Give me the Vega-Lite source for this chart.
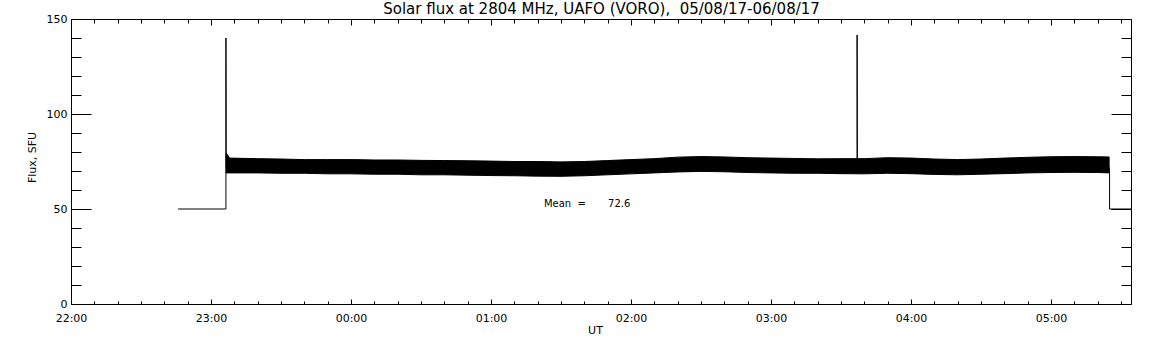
{
  "$schema": "https://vega.github.io/schema/vega-lite/v6.json",
  "width": 1060,
  "height": 285,
  "autosize": {"type": "none"},
  "padding": {"left": 71, "top": 19, "right": 21, "bottom": 41},
  "background": "white",
  "config": {
    "view": {"stroke": "black", "strokeWidth": 1},
    "axis": {
      "grid": false,
      "domain": false,
      "tickColor": "black",
      "tickWidth": 1,
      "labelColor": "black",
      "labelFont": "DejaVu Sans",
      "labelFontSize": 11,
      "titleFont": "DejaVu Sans",
      "titleFontSize": 11,
      "titleFontWeight": "normal",
      "titleColor": "black",
      "labelFlush": false,
      "labelOverlap": false
    }
  },
  "datasets": {
    "band": [
      {"t": "2017-08-05T23:06:30", "lo": 69.0, "hi": 79.5},
      {"t": "2017-08-05T23:08:00", "lo": 69.0, "hi": 76.8},
      {"t": "2017-08-05T23:20:00", "lo": 69.0, "hi": 76.5},
      {"t": "2017-08-05T23:30:00", "lo": 68.8, "hi": 76.3},
      {"t": "2017-08-05T23:40:00", "lo": 68.8, "hi": 76.0},
      {"t": "2017-08-05T23:50:00", "lo": 68.5, "hi": 76.0},
      {"t": "2017-08-06T00:00:00", "lo": 68.5, "hi": 76.0},
      {"t": "2017-08-06T00:10:00", "lo": 68.3, "hi": 75.8},
      {"t": "2017-08-06T00:20:00", "lo": 68.3, "hi": 75.8},
      {"t": "2017-08-06T00:30:00", "lo": 68.0, "hi": 75.6},
      {"t": "2017-08-06T00:40:00", "lo": 68.0, "hi": 75.5},
      {"t": "2017-08-06T00:50:00", "lo": 67.8, "hi": 75.4},
      {"t": "2017-08-06T01:00:00", "lo": 67.6, "hi": 75.2},
      {"t": "2017-08-06T01:10:00", "lo": 67.5, "hi": 75.0},
      {"t": "2017-08-06T01:20:00", "lo": 67.3, "hi": 75.0},
      {"t": "2017-08-06T01:30:00", "lo": 67.2, "hi": 74.8},
      {"t": "2017-08-06T01:40:00", "lo": 67.5, "hi": 75.0},
      {"t": "2017-08-06T01:50:00", "lo": 68.0, "hi": 75.5},
      {"t": "2017-08-06T02:00:00", "lo": 68.5, "hi": 76.0},
      {"t": "2017-08-06T02:10:00", "lo": 69.0, "hi": 76.5},
      {"t": "2017-08-06T02:20:00", "lo": 69.5, "hi": 77.3},
      {"t": "2017-08-06T02:30:00", "lo": 69.8, "hi": 77.6},
      {"t": "2017-08-06T02:40:00", "lo": 69.6, "hi": 77.4},
      {"t": "2017-08-06T02:50:00", "lo": 69.2, "hi": 77.0},
      {"t": "2017-08-06T03:00:00", "lo": 69.0, "hi": 76.8},
      {"t": "2017-08-06T03:10:00", "lo": 68.8, "hi": 76.6},
      {"t": "2017-08-06T03:20:00", "lo": 68.8, "hi": 76.4},
      {"t": "2017-08-06T03:30:00", "lo": 68.6, "hi": 76.5},
      {"t": "2017-08-06T03:40:00", "lo": 68.5, "hi": 76.5},
      {"t": "2017-08-06T03:50:00", "lo": 68.8, "hi": 77.0},
      {"t": "2017-08-06T04:00:00", "lo": 68.6, "hi": 76.8},
      {"t": "2017-08-06T04:10:00", "lo": 68.2, "hi": 76.3},
      {"t": "2017-08-06T04:20:00", "lo": 68.0, "hi": 76.0},
      {"t": "2017-08-06T04:30:00", "lo": 68.3, "hi": 76.3},
      {"t": "2017-08-06T04:40:00", "lo": 68.6, "hi": 76.8},
      {"t": "2017-08-06T04:50:00", "lo": 69.0, "hi": 77.2},
      {"t": "2017-08-06T05:00:00", "lo": 69.2, "hi": 77.5},
      {"t": "2017-08-06T05:10:00", "lo": 69.3, "hi": 77.6},
      {"t": "2017-08-06T05:20:00", "lo": 69.2, "hi": 77.5},
      {"t": "2017-08-06T05:24:54", "lo": 69.0, "hi": 77.4}
    ],
    "trace": [
      {"seg": "a", "t": "2017-08-05T22:45:54", "v": 50},
      {"seg": "a", "t": "2017-08-05T23:06:24", "v": 50},
      {"seg": "a", "t": "2017-08-05T23:06:24", "v": 140},
      {"seg": "a", "t": "2017-08-05T23:06:30", "v": 72},
      {"seg": "b", "t": "2017-08-06T03:36:54", "v": 74},
      {"seg": "b", "t": "2017-08-06T03:36:54", "v": 141.6},
      {"seg": "b", "t": "2017-08-06T03:37:00", "v": 74},
      {"seg": "c", "t": "2017-08-06T05:24:54", "v": 72},
      {"seg": "c", "t": "2017-08-06T05:25:06", "v": 70},
      {"seg": "c", "t": "2017-08-06T05:25:06", "v": 50},
      {"seg": "c", "t": "2017-08-06T05:34:17", "v": 50}
    ],
    "note": [
      {"t": "2017-08-06T01:22:40", "v": 51, "label": "Mean\u00a0\u00a0=\u00a0\u00a0\u00a0\u00a0\u00a0\u00a0\u00a072.6"}
    ],
    "hours": [
      {"t": "2017-08-05T23:00:00"},
      {"t": "2017-08-06T00:00:00"},
      {"t": "2017-08-06T01:00:00"},
      {"t": "2017-08-06T02:00:00"},
      {"t": "2017-08-06T03:00:00"},
      {"t": "2017-08-06T04:00:00"},
      {"t": "2017-08-06T05:00:00"}
    ]
  },
  "resolve": {"axis": {"x": "independent", "y": "independent"}},
  "layer": [
    {
      "data": {"name": "band"},
      "mark": {"type": "area", "color": "black", "stroke": "black", "strokeWidth": 1},
      "encoding": {
        "x": {
          "field": "t", "type": "temporal", "title": "UT",
          "scale": {"domain": [
            {"year": 2017, "month": 8, "date": 5, "hours": 22},
            {"year": 2017, "month": 8, "date": 6, "hours": 5, "minutes": 34, "seconds": 17}
          ]},
          "axis": {
            "orient": "bottom", "format": "%H:%M",
            "tickCount": 8,
            "tickSize": -5, "labelPadding": 13, "labelBaseline": "top",
            "titleX": 524, "titleY": 29, "titleBaseline": "alphabetic", "titleAlign": "center"
          }
        },
        "y": {
          "field": "lo", "type": "quantitative", "title": "Flux, SFU",
          "scale": {"domain": [0, 150], "nice": false, "zero": true},
          "axis": {
            "orient": "left", "values": [0, 50, 100, 150],
            "tickSize": -20, "labelPadding": 24,
            "titleX": -36, "titleY": 138, "titleAngle": -90,
            "titleBaseline": "alphabetic", "titleAlign": "center"
          }
        },
        "y2": {"field": "hi"}
      }
    },
    {
      "data": {"name": "trace"},
      "mark": {"type": "line", "color": "black", "strokeWidth": 1},
      "encoding": {
        "x": {
          "field": "t", "type": "temporal",
          "axis": {
            "orient": "bottom",
            "values": [
              {"year": 2017, "month": 8, "date": 5, "hours": 22, "minutes": 10},
              {"year": 2017, "month": 8, "date": 5, "hours": 22, "minutes": 20},
              {"year": 2017, "month": 8, "date": 5, "hours": 22, "minutes": 30},
              {"year": 2017, "month": 8, "date": 5, "hours": 22, "minutes": 40},
              {"year": 2017, "month": 8, "date": 5, "hours": 22, "minutes": 50},
              {"year": 2017, "month": 8, "date": 5, "hours": 23, "minutes": 10},
              {"year": 2017, "month": 8, "date": 5, "hours": 23, "minutes": 20},
              {"year": 2017, "month": 8, "date": 5, "hours": 23, "minutes": 30},
              {"year": 2017, "month": 8, "date": 5, "hours": 23, "minutes": 40},
              {"year": 2017, "month": 8, "date": 5, "hours": 23, "minutes": 50},
              {"year": 2017, "month": 8, "date": 6, "hours": 0, "minutes": 10},
              {"year": 2017, "month": 8, "date": 6, "hours": 0, "minutes": 20},
              {"year": 2017, "month": 8, "date": 6, "hours": 0, "minutes": 30},
              {"year": 2017, "month": 8, "date": 6, "hours": 0, "minutes": 40},
              {"year": 2017, "month": 8, "date": 6, "hours": 0, "minutes": 50},
              {"year": 2017, "month": 8, "date": 6, "hours": 1, "minutes": 10},
              {"year": 2017, "month": 8, "date": 6, "hours": 1, "minutes": 20},
              {"year": 2017, "month": 8, "date": 6, "hours": 1, "minutes": 30},
              {"year": 2017, "month": 8, "date": 6, "hours": 1, "minutes": 40},
              {"year": 2017, "month": 8, "date": 6, "hours": 1, "minutes": 50},
              {"year": 2017, "month": 8, "date": 6, "hours": 2, "minutes": 10},
              {"year": 2017, "month": 8, "date": 6, "hours": 2, "minutes": 20},
              {"year": 2017, "month": 8, "date": 6, "hours": 2, "minutes": 30},
              {"year": 2017, "month": 8, "date": 6, "hours": 2, "minutes": 40},
              {"year": 2017, "month": 8, "date": 6, "hours": 2, "minutes": 50},
              {"year": 2017, "month": 8, "date": 6, "hours": 3, "minutes": 10},
              {"year": 2017, "month": 8, "date": 6, "hours": 3, "minutes": 20},
              {"year": 2017, "month": 8, "date": 6, "hours": 3, "minutes": 30},
              {"year": 2017, "month": 8, "date": 6, "hours": 3, "minutes": 40},
              {"year": 2017, "month": 8, "date": 6, "hours": 3, "minutes": 50},
              {"year": 2017, "month": 8, "date": 6, "hours": 4, "minutes": 10},
              {"year": 2017, "month": 8, "date": 6, "hours": 4, "minutes": 20},
              {"year": 2017, "month": 8, "date": 6, "hours": 4, "minutes": 30},
              {"year": 2017, "month": 8, "date": 6, "hours": 4, "minutes": 40},
              {"year": 2017, "month": 8, "date": 6, "hours": 4, "minutes": 50},
              {"year": 2017, "month": 8, "date": 6, "hours": 5, "minutes": 10},
              {"year": 2017, "month": 8, "date": 6, "hours": 5, "minutes": 20},
              {"year": 2017, "month": 8, "date": 6, "hours": 5, "minutes": 30}
            ],
            "tickSize": -3, "labels": false, "title": null
          }
        },
        "y": {
          "field": "v", "type": "quantitative",
          "axis": {
            "orient": "left", "values": [10, 20, 30, 40, 60, 70, 80, 90, 110, 120, 130, 140],
            "tickSize": -10, "labels": false, "title": null
          }
        },
        "detail": {"field": "seg"}
      }
    },
    {
      "data": {"name": "note"},
      "mark": {"type": "text", "align": "left", "baseline": "alphabetic", "font": "DejaVu Sans", "fontSize": 10, "color": "black"},
      "encoding": {
        "x": {
          "field": "t", "type": "temporal",
          "title": "Solar flux at 2804 MHz, UAFO (VORO),\u00a0\u00a005/08/17-06/08/17",
          "axis": {
            "orient": "top", "tickCount": 8,
            "tickSize": -6, "labels": false,
            "titleFontSize": 15, "titleX": 530, "titleY": -6,
            "titleBaseline": "alphabetic", "titleAlign": "center"
          }
        },
        "y": {
          "field": "v", "type": "quantitative",
          "axis": {
            "orient": "right", "values": [0, 50, 100, 150],
            "tickSize": -20, "labels": false, "title": null
          }
        },
        "text": {"field": "label"}
      }
    },
    {
      "data": {"name": "hours"},
      "mark": {"type": "point", "opacity": 0},
      "encoding": {
        "x": {
          "field": "t", "type": "temporal",
          "axis": {
            "orient": "top",
            "values": [
              {"year": 2017, "month": 8, "date": 5, "hours": 22, "minutes": 10},
              {"year": 2017, "month": 8, "date": 5, "hours": 22, "minutes": 20},
              {"year": 2017, "month": 8, "date": 5, "hours": 22, "minutes": 30},
              {"year": 2017, "month": 8, "date": 5, "hours": 22, "minutes": 40},
              {"year": 2017, "month": 8, "date": 5, "hours": 22, "minutes": 50},
              {"year": 2017, "month": 8, "date": 5, "hours": 23, "minutes": 10},
              {"year": 2017, "month": 8, "date": 5, "hours": 23, "minutes": 20},
              {"year": 2017, "month": 8, "date": 5, "hours": 23, "minutes": 30},
              {"year": 2017, "month": 8, "date": 5, "hours": 23, "minutes": 40},
              {"year": 2017, "month": 8, "date": 5, "hours": 23, "minutes": 50},
              {"year": 2017, "month": 8, "date": 6, "hours": 0, "minutes": 10},
              {"year": 2017, "month": 8, "date": 6, "hours": 0, "minutes": 20},
              {"year": 2017, "month": 8, "date": 6, "hours": 0, "minutes": 30},
              {"year": 2017, "month": 8, "date": 6, "hours": 0, "minutes": 40},
              {"year": 2017, "month": 8, "date": 6, "hours": 0, "minutes": 50},
              {"year": 2017, "month": 8, "date": 6, "hours": 1, "minutes": 10},
              {"year": 2017, "month": 8, "date": 6, "hours": 1, "minutes": 20},
              {"year": 2017, "month": 8, "date": 6, "hours": 1, "minutes": 30},
              {"year": 2017, "month": 8, "date": 6, "hours": 1, "minutes": 40},
              {"year": 2017, "month": 8, "date": 6, "hours": 1, "minutes": 50},
              {"year": 2017, "month": 8, "date": 6, "hours": 2, "minutes": 10},
              {"year": 2017, "month": 8, "date": 6, "hours": 2, "minutes": 20},
              {"year": 2017, "month": 8, "date": 6, "hours": 2, "minutes": 30},
              {"year": 2017, "month": 8, "date": 6, "hours": 2, "minutes": 40},
              {"year": 2017, "month": 8, "date": 6, "hours": 2, "minutes": 50},
              {"year": 2017, "month": 8, "date": 6, "hours": 3, "minutes": 10},
              {"year": 2017, "month": 8, "date": 6, "hours": 3, "minutes": 20},
              {"year": 2017, "month": 8, "date": 6, "hours": 3, "minutes": 30},
              {"year": 2017, "month": 8, "date": 6, "hours": 3, "minutes": 40},
              {"year": 2017, "month": 8, "date": 6, "hours": 3, "minutes": 50},
              {"year": 2017, "month": 8, "date": 6, "hours": 4, "minutes": 10},
              {"year": 2017, "month": 8, "date": 6, "hours": 4, "minutes": 20},
              {"year": 2017, "month": 8, "date": 6, "hours": 4, "minutes": 30},
              {"year": 2017, "month": 8, "date": 6, "hours": 4, "minutes": 40},
              {"year": 2017, "month": 8, "date": 6, "hours": 4, "minutes": 50},
              {"year": 2017, "month": 8, "date": 6, "hours": 5, "minutes": 10},
              {"year": 2017, "month": 8, "date": 6, "hours": 5, "minutes": 20},
              {"year": 2017, "month": 8, "date": 6, "hours": 5, "minutes": 30}
            ],
            "tickSize": -4, "labels": false, "title": null
          }
        },
        "y": {
          "datum": 100, "type": "quantitative",
          "axis": {
            "orient": "right", "values": [10, 20, 30, 40, 60, 70, 80, 90, 110, 120, 130, 140],
            "tickSize": -10, "labels": false, "title": null
          }
        }
      }
    }
  ]
}
